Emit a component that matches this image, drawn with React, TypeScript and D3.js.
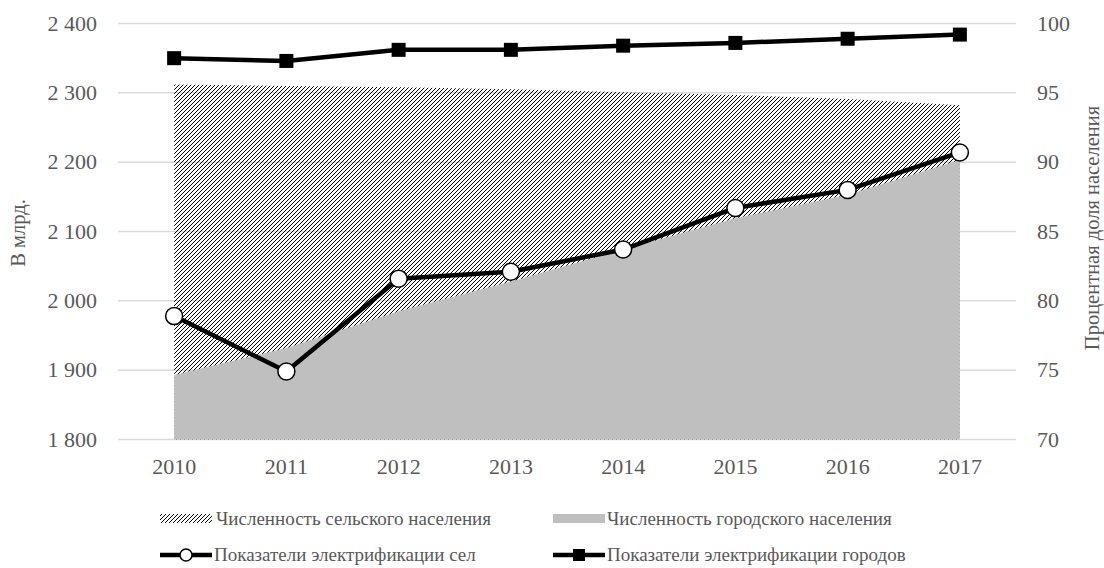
import React from "react";
import * as d3 from "d3";

const years = ["2010", "2011", "2012", "2013", "2014", "2015", "2016", "2017"];
// population, left axis
const ruralPopulation = [2312, 2310, 2308, 2305, 2301, 2297, 2291, 2282];
const urbanPopulation = [1893, 1932, 1985, 2028, 2074, 2119, 2153, 2203];
// electrification share, right axis (%)
const ruralElectrification = [78.9, 74.9, 81.6, 82.1, 83.7, 86.7, 88.0, 90.7];
const urbanElectrification = [97.5, 97.3, 98.1, 98.1, 98.4, 98.6, 98.9, 99.2];

const leftTicks = [1800, 1900, 2000, 2100, 2200, 2300, 2400];
const rightTicks = [70, 75, 80, 85, 90, 95, 100];

const legendLabels = [
  "Численность сельского населения",
  "Численность городского населения",
  "Показатели электрификации сел",
  "Показатели электрификации городов",
];

const W = 1104;
const H = 568;
const FONT = "Liberation Serif";
const TXT = "#595959";

type LabelProps = { x: number; y: number; size: number; anchor?: string; transform?: string; dy?: string; children: React.ReactNode };
const Label = ({ x, y, size, anchor = "start", transform, dy = "0.33em", children }: LabelProps) => (
  <text x={x} y={y} dy={dy} fontFamily={FONT} fontSize={size} fill={TXT} textAnchor={anchor} transform={transform}>
    {children}
  </text>
);

export default function App() {
  const x = d3.scaleBand<string>().domain(years).range([118, 1016]);
  const cx = (y: string) => (x(y) ?? 0) + x.bandwidth() / 2;
  const yL = d3.scaleLinear().domain([1800, 2400]).range([439.5, 23.5]);
  const yR = d3.scaleLinear().domain([70, 100]).range([439.5, 23.5]);

  const area = (vals: number[]) =>
    d3
      .area<number>()
      .x((_, i) => cx(years[i]))
      .y0(yL(1800))
      .y1((v) => yL(v))(vals) ?? "";

  const line = (vals: number[]) =>
    d3
      .line<number>()
      .x((_, i) => cx(years[i]))
      .y((v) => yR(v))(vals) ?? "";

  const fmt = (v: number) => d3.format(",")(v).replace(",", " ");

  return (
    <svg width={W} height={H} style={{ display: "block", position: "absolute", left: 0, top: 0 }}>
      <defs>
        <pattern id="hatch" patternUnits="userSpaceOnUse" width={4} height={4}>
          <path d="M-1,1 L1,-1 M0,4 L4,0 M3,5 L5,3" stroke="#000" strokeWidth={1.0} />
        </pattern>
      </defs>
      <rect width={W} height={H} fill="#fff" />

      {/* gridlines */}
      {leftTicks.map((t) => (
        <line key={t} x1={118} x2={1016} y1={yL(t)} y2={yL(t)} stroke="#d9d9d9" strokeWidth={1.5} />
      ))}

      {/* population areas */}
      <path d={area(ruralPopulation)} fill="url(#hatch)" />
      <path d={area(urbanPopulation)} fill="#bfbfbf" />

      {/* electrification lines */}
      <path d={line(urbanElectrification)} fill="none" stroke="#000" strokeWidth={4.5} strokeLinejoin="round" />
      {urbanElectrification.map((v, i) => (
        <rect key={i} x={cx(years[i]) - 7} y={yR(v) - 7} width={14} height={14} fill="#000" />
      ))}
      <path d={line(ruralElectrification)} fill="none" stroke="#000" strokeWidth={4.5} strokeLinejoin="round" />
      {ruralElectrification.map((v, i) => (
        <circle key={i} cx={cx(years[i])} cy={yR(v)} r={8.5} fill="#fff" stroke="#000" strokeWidth={1.5} />
      ))}

      {/* axes labels */}
      {leftTicks.map((t) => (
        <Label key={t} x={97} y={yL(t)} size={22} anchor="end">
          {fmt(t)}
        </Label>
      ))}
      {rightTicks.map((t) => (
        <Label key={t} x={1037} y={yR(t)} size={22}>
          {t}
        </Label>
      ))}
      {years.map((yr) => (
        <Label key={yr} x={cx(yr)} y={467} size={22} anchor="middle">
          {yr}
        </Label>
      ))}
      {/* rotated titles: baseline placed directly, no vertical shift */}
      <Label x={0} y={0} size={20.5} anchor="middle" dy="0" transform="translate(25,233) rotate(-90)">
        В млрд.
      </Label>
      <Label x={0} y={0} size={20.5} anchor="middle" dy="0" transform="translate(1099,228) rotate(-90)">
        Процентная доля населения
      </Label>

      {/* legend */}
      <rect x={160} y={514} width={52} height={9} fill="url(#hatch)" />
      <Label x={216} y={519} size={19}>{legendLabels[0]}</Label>
      <rect x={553} y={514} width={52} height={9} fill="#bfbfbf" />
      <Label x={607} y={519} size={19}>{legendLabels[1]}</Label>

      <line x1={160} x2={212} y1={555} y2={555} stroke="#000" strokeWidth={4.5} />
      <circle cx={186} cy={555} r={6} fill="#fff" stroke="#000" strokeWidth={1.5} />
      <Label x={214} y={555} size={19}>{legendLabels[2]}</Label>
      <line x1={553} x2={605} y1={555} y2={555} stroke="#000" strokeWidth={4.5} />
      <rect x={573} y={549} width={12} height={12} fill="#000" />
      <Label x={607} y={555} size={19}>{legendLabels[3]}</Label>
    </svg>
  );
}
